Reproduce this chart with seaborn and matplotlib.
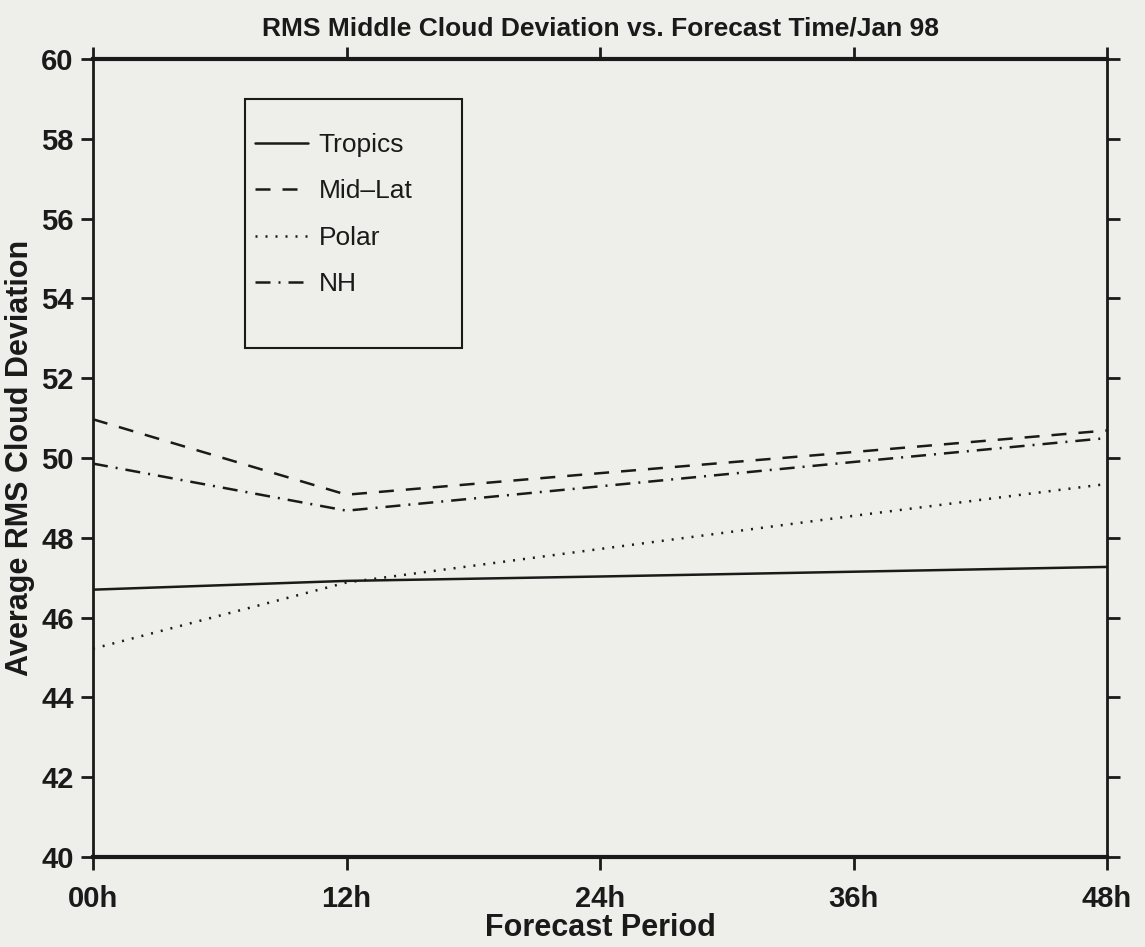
import matplotlib
matplotlib.use("Agg")
import matplotlib.pyplot as plt
from matplotlib.lines import Line2D
from matplotlib.patches import Rectangle
import seaborn as sns
import pandas as pd

hours = [0, 12, 24, 36, 48]
hour_labels = ["00h", "12h", "24h", "36h", "48h"]
tropics = [46.70, 46.92, 47.03, 47.15, 47.27]
midlat = [50.97, 49.08, 49.62, 50.15, 50.69]
polar = [45.22, 46.88, 47.72, 48.55, 49.35]
nh = [49.86, 48.68, 49.29, 49.90, 50.50]
series_names = ["Tropics", "Mid\u2013Lat", "Polar", "NH"]

df = pd.DataFrame({
    "hour": hours * 4,
    "value": tropics + midlat + polar + nh,
    "region": sum([[n] * len(hours) for n in series_names], []),
})

sns.set_theme(style="ticks")
plt.rcParams['font.family'] = ['Liberation Sans', 'DejaVu Sans']
bg = "#eeeeea"
ink = "#1a1a1a"

W, H = 1145, 947
ax_l, ax_r, ax_t, ax_b = 93, 1107, 59, 857
fig = plt.figure(figsize=(W / 100, H / 100), dpi=100, facecolor=bg)
ax = fig.add_axes([ax_l / W, 1 - ax_b / H, (ax_r - ax_l) / W, (ax_b - ax_t) / H])
ax.set_facecolor(bg)

dashes = {
    "Tropics": "",
    "Mid\u2013Lat": (6, 4.8),
    "Polar": (0.8, 3.2),
    "NH": (6, 3.2, 0.8, 3.2),
}
sns.lineplot(data=df, x="hour", y="value", hue="region", style="region",
             palette=[ink] * 4, dashes=dashes, linewidth=1.8, ax=ax,
             legend=False)

ax.set_xlim(0, 48)
ax.set_ylim(40, 60)
ax.set_xticks(hours)
ax.set_xticklabels(hour_labels)
ax.set_yticks(range(40, 61, 2))

for s in ax.spines.values():
    s.set_visible(True)
    s.set_color(ink)
    s.set_linewidth(2)
ax.spines["top"].set_linewidth(3)
ax.spines["bottom"].set_linewidth(3)

ax.tick_params(axis="both", direction="out", length=9, width=2, color=ink,
               labelsize=21, top=True, right=True, labeltop=False, labelright=False)
ax.tick_params(axis="x", pad=11)
ax.tick_params(axis="y", pad=5)
for lab in ax.get_xticklabels() + ax.get_yticklabels():
    lab.set_fontweight("bold")
    lab.set_color(ink)

ax.set_title("RMS Middle Cloud Deviation vs. Forecast Time/Jan 98",
             fontsize=19, fontweight="bold", color=ink, pad=17)
ax.set_xlabel("Forecast Period", fontsize=22, fontweight="bold", color=ink, labelpad=0)
ax.set_ylabel("Average RMS Cloud Deviation", fontsize=22, fontweight="bold", color=ink, labelpad=4)


def ax_frac(px, py):
    return (px - ax_l) / (ax_r - ax_l), (ax_b - py) / (ax_b - ax_t)


handles = []
for n in series_names:
    d = dashes[n]
    ls = "-" if d == "" else (0, d)
    handles.append(Line2D([], [], color=ink, lw=1.8, linestyle=ls))
leg = ax.legend(handles, series_names, loc="upper left", bbox_to_anchor=ax_frac(255, 133),
                fontsize=19, handlelength=2.0, handletextpad=0.42, labelspacing=0.85,
                borderpad=0, frameon=False, borderaxespad=0)
for t in leg.get_texts():
    t.set_color(ink)

bx0, by0 = ax_frac(245, 348)
bx1, by1 = ax_frac(462, 99)
ax.add_patch(Rectangle((bx0, by0), bx1 - bx0, by1 - by0, transform=ax.transAxes,
                       fill=False, edgecolor=ink, linewidth=1.5, zorder=5))

fig.savefig("out.png", dpi=100, facecolor=bg)
